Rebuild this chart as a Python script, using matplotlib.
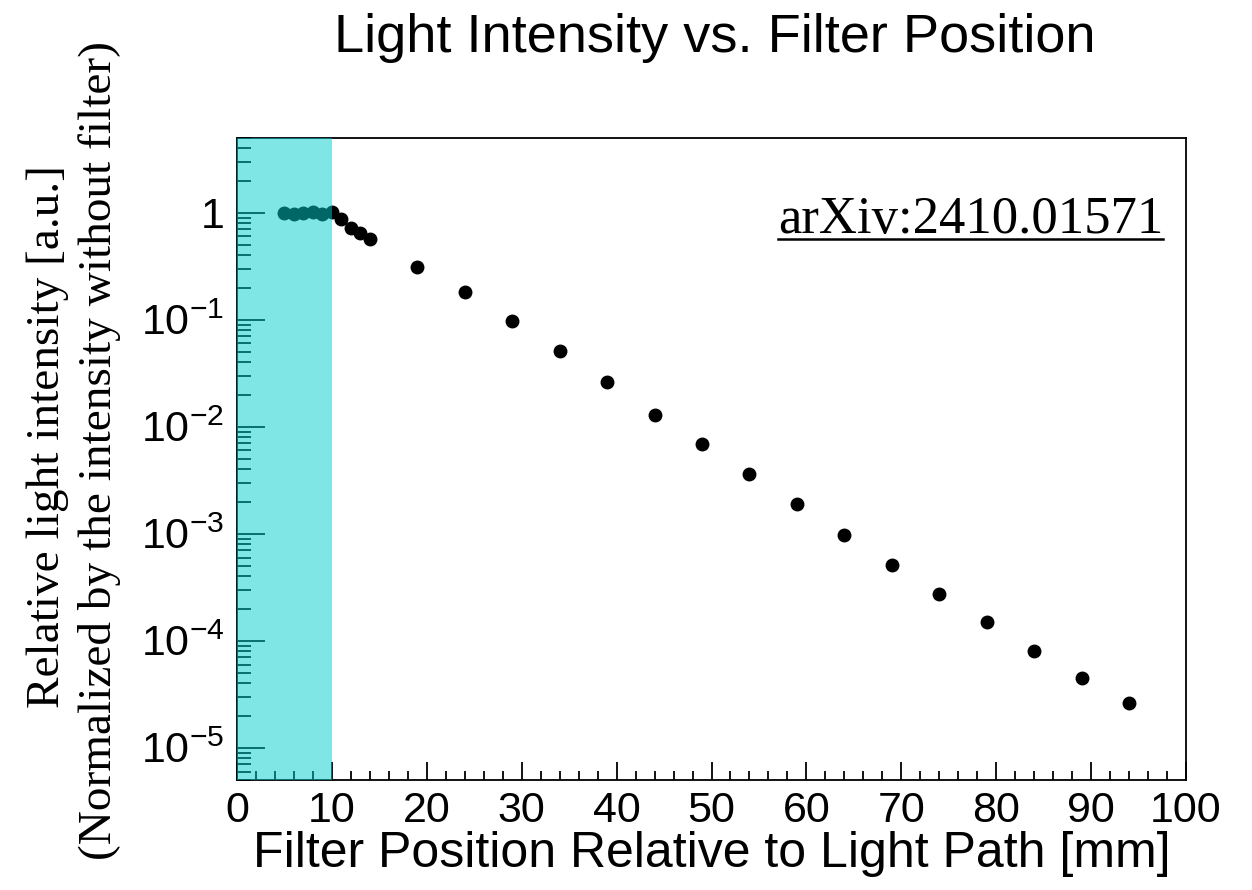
import matplotlib
matplotlib.use('Agg')

import matplotlib.pyplot as plt
from matplotlib.ticker import FixedLocator, LogLocator, MultipleLocator, NullFormatter
from matplotlib.lines import Line2D

# measured filter positions [mm] and relative intensities
positions = [5, 6, 7, 8, 9, 10, 11, 12, 13, 14,
             19, 24, 29, 34, 39, 44, 49, 54, 59, 64, 69, 74, 79, 84, 89, 94]
intensity = [1.0, 0.97, 1.0, 1.02, 0.98, 1.02, 0.88, 0.72, 0.65, 0.57,
             0.31, 0.18, 0.097, 0.051, 0.026, 0.013, 0.0069, 0.0036, 0.0019,
             0.00098, 0.00051, 0.000275, 0.000151, 8.1e-5, 4.5e-5, 2.6e-5]
band = [0, 10]
y_ticks = [1e-5, 1e-4, 1e-3, 1e-2, 1e-1, 1]
y_labels = ['$10^{-5}$', '$10^{-4}$', '$10^{-3}$', '$10^{-2}$', '$10^{-1}$', '1']

plt.rcParams['font.family'] = ['Liberation Sans', 'DejaVu Sans']
plt.rcParams['mathtext.fontset'] = 'custom'
plt.rcParams['mathtext.rm'] = 'Liberation Sans'
plt.rcParams['mathtext.it'] = 'Liberation Sans'
plt.rcParams['mathtext.default'] = 'regular'

fig = plt.figure(figsize=(12.52, 8.90), dpi=100)
ax = fig.add_axes([0.1893, 0.1236, 0.758, 0.7214])

ax.plot(positions, intensity, 'o', color='black', markersize=9, zorder=2)
ax.axvspan(band[0], band[1], facecolor=(0.0, 0.8, 0.8), alpha=0.5, lw=0, zorder=3)

ax.set_yscale('log')
ax.set_xlim(0, 100)
ax.set_ylim(5e-6, 5)

ax.xaxis.set_major_locator(MultipleLocator(10))
ax.xaxis.set_minor_locator(MultipleLocator(2))
ax.yaxis.set_major_locator(FixedLocator(y_ticks))
ax.set_yticklabels(y_labels)
ax.yaxis.set_minor_locator(LogLocator(base=10, subs=range(2, 10), numticks=20))
ax.yaxis.set_minor_formatter(NullFormatter())

ax.tick_params(axis='x', which='major', direction='in', length=13, width=1.3,
               labelsize=31, pad=8)
ax.tick_params(axis='x', which='minor', direction='in', length=6.5, width=1.3)
ax.tick_params(axis='y', which='major', direction='in', length=20, width=1.3,
               labelsize=31, pad=9)
ax.tick_params(axis='y', which='minor', direction='in', length=10, width=1.3)
for s in ax.spines.values():
    s.set_linewidth(1.3)

ax.set_xlabel('Filter Position Relative to Light Path [mm]', fontsize=36, labelpad=0)

# two-line y title, placed by hand
fig.text(48 / 1252, 0.509, 'Relative light intensity [a.u.]', rotation=90,
         fontsize=34, family='Liberation Serif', ha='center', va='center')
fig.text(100 / 1252, 0.494, '(Normalized by the intensity without filter)', rotation=90,
         fontsize=34, family='Liberation Serif', ha='center', va='center')

fig.text(0.571, 0.957, 'Light Intensity vs. Filter Position', fontsize=39,
         ha='center', va='center')

txt = ax.text(0.976, 0.852, 'arXiv:2410.01571', transform=ax.transAxes,
              fontsize=38, family='Liberation Serif', ha='right', va='baseline', zorder=6)

# underline the arXiv tag
fig.canvas.draw()
bb = txt.get_window_extent().transformed(fig.transFigure.inverted())
base = ax.transAxes.transform((0, 0.852))[1] / fig.bbox.height
y_line = base - 6 / 890
fig.add_artist(Line2D([bb.x0, bb.x1], [y_line, y_line], color='black', lw=1.8,
                      transform=fig.transFigure))

fig.savefig('out.png', dpi=100)
